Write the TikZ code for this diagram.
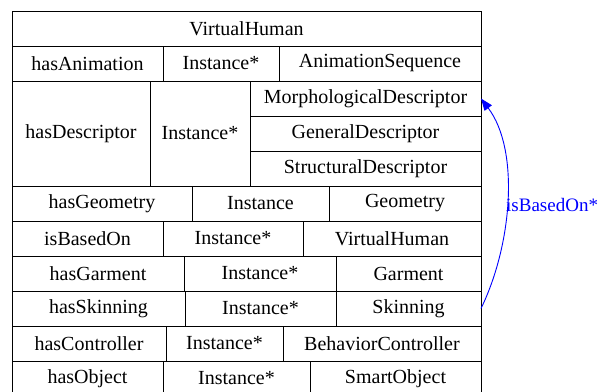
\documentclass[tikz,border=0pt]{standalone}
\usepackage{fontspec}
\setmainfont{Liberation Serif}
\newfontfamily\recordfont{Liberation Serif}
\usetikzlibrary{arrows.meta}
\definecolor{edgeblue}{RGB}{0,0,255}
\tikzset{
  cellbox/.style={draw=black, line width=0.8pt, inner sep=0pt, outer sep=0pt,
    anchor=north west, font=\recordfont\fontsize{20}{24}\selectfont},
  linkedge/.style={draw=edgeblue, line width=0.9pt,
    -{Triangle[length=12pt,width=9pt]}},
  linklabel/.style={text=edgeblue, anchor=west, inner sep=0pt,
    font=\recordfont\fontsize{19}{23}\selectfont}
}
% \recordcell{name}{x1}{y1}{x2}{y2}{text}
\newcommand\recordcell[6]{%
  \node[cellbox, minimum width={(#4-#2)*1pt}, minimum height={(#5-#3)*1pt}]
    (#1) at (#2,#3) {#6};}
\begin{document}
\begin{tikzpicture}[x=1pt, y=-1pt]
\useasboundingbox (0,0) rectangle (602,391);
\begin{scope}
\clip (0,0) rectangle (602,391);
% header
\recordcell{title}{12}{11}{481}{46}{VirtualHuman}
% hasAnimation
\recordcell{anim}{12}{46}{163}{81}{hasAnimation}
\recordcell{animinst}{163}{46}{279}{81}{Instance*}
\recordcell{animseq}{279}{46}{481}{81}{AnimationSequence}
% hasDescriptor
\recordcell{desc}{12}{81}{150}{186}{hasDescriptor}
\recordcell{descinst}{150}{81}{250}{186}{Instance*}
\recordcell{morph}{250}{81}{481}{116}{MorphologicalDescriptor}
\recordcell{general}{250}{116}{481}{151}{GeneralDescriptor}
\recordcell{struct}{250}{151}{481}{186}{StructuralDescriptor}
% hasGeometry
\recordcell{geo}{12}{186}{192}{221}{hasGeometry}
\recordcell{geoinst}{192}{186}{329}{221}{Instance}
\recordcell{geotype}{329}{186}{481}{221}{Geometry}
% isBasedOn
\recordcell{based}{12}{221}{163}{256}{isBasedOn}
\recordcell{basedinst}{163}{221}{303}{256}{Instance*}
\recordcell{basedtype}{303}{221}{481}{256}{VirtualHuman}
% hasGarment
\recordcell{garm}{12}{256}{184}{291}{hasGarment}
\recordcell{garminst}{184}{256}{336}{291}{Instance*}
\recordcell{garmtype}{336}{256}{481}{291}{Garment}
% hasSkinning
\recordcell{skin}{12}{291}{185}{326}{hasSkinning}
\recordcell{skininst}{185}{291}{336}{326}{Instance*}
\recordcell{skintype}{336}{291}{481}{326}{Skinning}
% hasController
\recordcell{ctrl}{12}{326}{166}{361}{hasController}
\recordcell{ctrlinst}{166}{326}{283}{361}{Instance*}
\recordcell{ctrltype}{283}{326}{481}{361}{BehaviorController}
% hasObject
\recordcell{obj}{12}{361}{163}{396}{hasObject}
\recordcell{objinst}{163}{361}{310}{396}{Instance*}
\recordcell{objtype}{310}{361}{481}{396}{SmartObject}
\end{scope}
% self link from the skinning port to the morphological descriptor port
\draw[linkedge] (skintype.east) .. controls (512,245) and (520,150) .. (morph.east);
\node[linklabel] (basedlabel) at (506,205) {isBasedOn*};
\end{tikzpicture}
\end{document}
